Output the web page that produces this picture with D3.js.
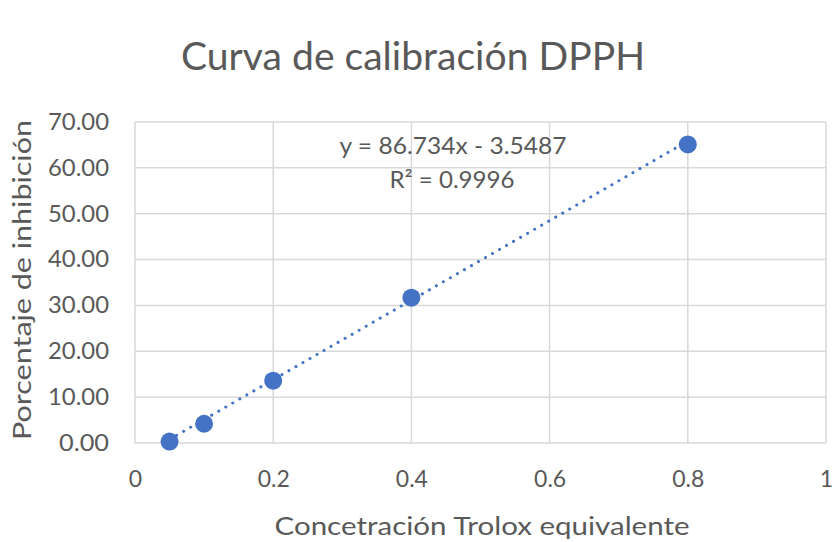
<!DOCTYPE html>
<html><head><meta charset="utf-8">
<script src="https://cdn.jsdelivr.net/npm/d3@7"></script>
<style>body{margin:0;background:#fff}svg{display:block}</style>
</head><body>
<script>
const xValues = [0.05, 0.1, 0.2, 0.4, 0.8];
const yValues = [0.30, 4.2, 13.6, 31.7, 65.1];
const xTicks = [0, 0.2, 0.4, 0.6, 0.8, 1];
const yTicks = [0, 10, 20, 30, 40, 50, 60, 70];
const slope = 86.734, intercept = -3.5487;
const title = "Curva de calibración DPPH";
const xTitle = "Concetración Trolox equivalente";
const yTitle = "Porcentaje de inhibición";
const eqText = "y = 86.734x - 3.5487";
const r2Text = "R² = 0.9996";

const W = 833, H = 542;
const font = "Lato, 'Open Sans', sans-serif";
const grey = "#595959", blue = "#4472C4";
const svg = d3.select("body").append("svg").attr("width", W).attr("height", H);
const x = d3.scaleLinear().domain([0, 1]).range([135, 826]);
const y = d3.scaleLinear().domain([0, 70]).range([443, 122]);

// gridlines
svg.append("g").selectAll("line").data(yTicks).join("line")
  .attr("x1", x(0)).attr("x2", x(1)).attr("y1", d => y(d)).attr("y2", d => y(d))
  .attr("stroke", "#d9d9d9").attr("stroke-width", 1.5);
svg.append("g").selectAll("line").data(xTicks).join("line")
  .attr("y1", y(0)).attr("y2", y(70)).attr("x1", d => x(d)).attr("x2", d => x(d))
  .attr("stroke", "#d9d9d9").attr("stroke-width", 1.5);

// axes (labels only)
const yAxis = d3.axisLeft(y).tickValues(yTicks).tickFormat(d3.format(".2f")).tickSize(0).tickPadding(26);
const gy = svg.append("g").attr("transform", `translate(${x(0)},0)`).call(yAxis);
gy.select(".domain").remove();
gy.selectAll("text").attr("font-family", font).attr("font-size", 23).attr("fill", grey)
  .attr("textLength", 61).attr("lengthAdjust", "spacingAndGlyphs")
  .filter(d => d < 10).attr("textLength", 50);
const xAxis = d3.axisBottom(x).tickValues(xTicks).tickFormat(d3.format("")).tickSize(0).tickPadding(28);
const gx = svg.append("g").attr("transform", `translate(0,${y(0)})`).call(xAxis);
gx.select(".domain").remove();
gx.selectAll("text").attr("font-family", font).attr("font-size", 23).attr("fill", grey);

// trendline
const xs = d3.extent(xValues);
svg.append("line")
  .attr("x1", x(xs[0])).attr("y1", y(slope * xs[0] + intercept))
  .attr("x2", x(xs[1])).attr("y2", y(slope * xs[1] + intercept))
  .attr("stroke", blue).attr("stroke-width", 3).attr("stroke-dasharray", "0.1 8")
  .attr("stroke-linecap", "round");

// points
svg.append("g").selectAll("circle").data(xValues).join("circle")
  .attr("cx", d => x(d)).attr("cy", (d, i) => y(yValues[i])).attr("r", 9)
  .attr("fill", blue);

// equation
svg.append("text").attr("x", 453).attr("y", 154).attr("text-anchor", "middle")
  .attr("font-family", font).attr("font-size", 23).attr("fill", grey)
  .attr("textLength", 227).attr("lengthAdjust", "spacingAndGlyphs").text(eqText);
svg.append("text").attr("x", 452).attr("y", 188).attr("text-anchor", "middle")
  .attr("font-family", font).attr("font-size", 23).attr("fill", grey)
  .attr("textLength", 125).attr("lengthAdjust", "spacingAndGlyphs").text(r2Text);

// titles
svg.append("text").attr("x", 413).attr("y", 70).attr("text-anchor", "middle")
  .attr("font-family", font).attr("font-size", 39).attr("fill", grey)
  .attr("textLength", 464).attr("lengthAdjust", "spacingAndGlyphs").text(title);
svg.append("text").attr("x", 482).attr("y", 535).attr("text-anchor", "middle")
  .attr("font-family", font).attr("font-size", 25).attr("fill", grey)
  .attr("textLength", 415).attr("lengthAdjust", "spacingAndGlyphs").text(xTitle);
svg.append("text").attr("transform", "translate(31,280) rotate(-90)").attr("text-anchor", "middle")
  .attr("font-family", font).attr("font-size", 25).attr("fill", grey)
  .attr("textLength", 320).attr("lengthAdjust", "spacingAndGlyphs").text(yTitle);
</script>
</body></html>
